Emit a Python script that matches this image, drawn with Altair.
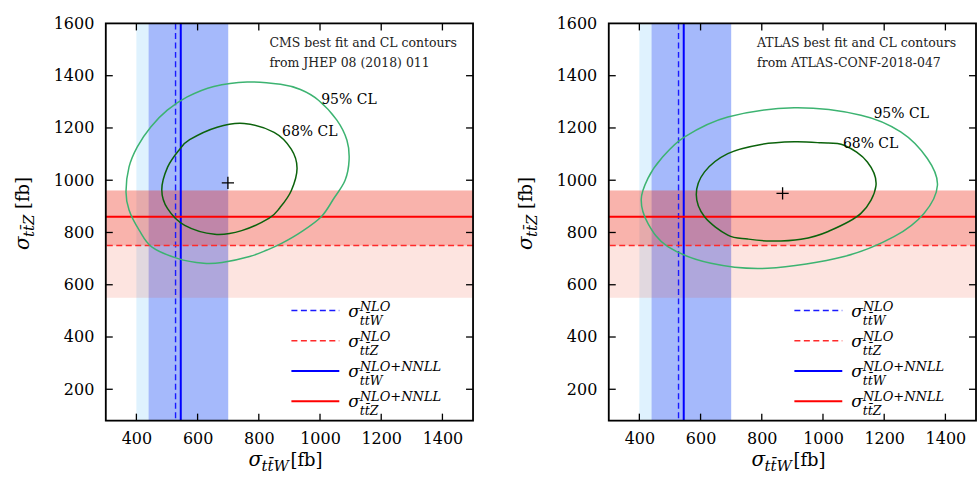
import altair as alt
import pandas as pd

FONT = "DejaVu Serif"

# ---------------- data ----------------
x_domain = [300, 1500]
y_domain = [80, 1600]
x_tick_values = [400, 600, 800, 1000, 1200, 1400]
y_tick_values = [200, 400, 600, 800, 1000, 1200, 1400, 1600]
y_inner_ticks = [200, 400, 600, 800, 1000, 1200, 1400]

ttw_nlo = 528
ttw_nnll = 545
ttw_nlo_band = [400, 700]
ttw_nnll_band = [440, 700]
ttz_nlo = 750
ttz_nnll = 860
ttz_nlo_band = [550, 963]
ttz_nnll_band = [750, 960]

cms_best = [699, 990]
cms95_x = [762, 871, 936, 995, 1055, 1088, 1095, 1082, 1045, 1004, 940, 876, 827, 770, 680, 620, 534, 450, 409, 376, 366, 376, 403, 447, 501, 566, 653]
cms95_y = [1376, 1367, 1347, 1306, 1230, 1153, 1077, 1000, 930, 860, 803, 759, 733, 708, 685, 682, 701, 745, 809, 886, 956, 1051, 1128, 1204, 1268, 1319, 1359]
cms68_x = [752, 850, 906, 925, 906, 869, 834, 744, 656, 558, 502, 483, 502, 539, 574, 664]
cms68_y = [1217, 1183, 1119, 1046, 960, 895, 855, 807, 793, 827, 891, 964, 1050, 1115, 1155, 1203]

atlas_best = [868, 950]
atlas95_x = [906, 1124, 1254, 1341, 1374, 1330, 1232, 1069, 819, 634, 493, 428, 406, 428, 472, 548, 689]
atlas95_y = [1277, 1249, 1185, 1083, 981, 873, 784, 708, 663, 682, 746, 835, 925, 1007, 1083, 1166, 1242]
atlas68_x = [906, 993, 1069, 1145, 1173, 1124, 1015, 928, 830, 754, 689, 613, 586, 613, 689, 798]
atlas68_y = [1147, 1143, 1134, 1070, 978, 873, 803, 774, 767, 775, 790, 860, 945, 1032, 1102, 1137]

cms_labels = ["95% CL", "68% CL"]
cms_label_x = [1004, 876]
cms_label_y = [1306, 1184]
atlas_labels = ["95% CL", "68% CL"]
atlas_label_x = [1165, 1065]
atlas_label_y = [1252, 1138]

cms_note = ["CMS best fit and CL contours", "from JHEP 08 (2018) 011"]
atlas_note = ["ATLAS best fit and CL contours", "from ATLAS-CONF-2018-047"]

legend_sup = ["NLO", "NLO", "NLO+NNLL", "NLO+NNLL"]
legend_sub = ["tt\u0304W", "tt\u0304Z", "tt\u0304W", "tt\u0304Z"]
legend_sigma = ["σ", "σ", "σ", "σ"]

x_title_parts = ["σ", "tt\u0304W", "[fb]"]
y_title_parts = ["σ", "tt\u0304Z", "[fb]"]

# ---------------- styles ----------------
W, H = 368, 398
legend_colors = ["#1a1aff", "#ff2a2a", "#0000ff", "#ff0000"]
legend_dashed = [True, True, False, False]
DASH = [6, 3.5]

xs = alt.Scale(domain=x_domain, nice=False, zero=False)
ys = alt.Scale(domain=y_domain, nice=False, zero=False)
x_axis = alt.Axis(values=x_tick_values, format="d", ticks=False, tickSize=0, domain=False, grid=False,
                  labelFont=FONT, labelFontSize=16, labelColor="black", labelPadding=10,
                  title=None, labelFlush=False)
y_axis = alt.Axis(values=y_tick_values, format="d", ticks=False, tickSize=0, domain=False, grid=False,
                  labelFont=FONT, labelFontSize=16, labelColor="black", labelPadding=12,
                  title=None, labelFlush=False)


def X(f):
    return alt.X(f, type="quantitative", scale=xs, axis=x_axis)


def Y(f):
    return alt.Y(f, type="quantitative", scale=ys, axis=y_axis)


def one(**kw):
    return pd.DataFrame({k: [v] for k, v in kw.items()})


def txt(t, x, y, size, italic=False, angle=None):
    kw = dict(font=FONT, fontSize=size, align="left", baseline="alphabetic", color="black")
    if italic:
        kw["fontStyle"] = "italic"
    if angle is not None:
        kw["angle"] = angle
    return alt.Chart(one(t=t)).mark_text(**kw).encode(x=alt.value(x), y=alt.value(y), text="t:N")


def panel(best, c95x, c95y, c68x, c68y, labels, lx, ly, note, note_x):
    layers = []
    # vertical (ttW) bands
    layers.append(alt.Chart(one(lo=ttw_nlo_band[0], hi=ttw_nlo_band[1])).mark_rect(
        color="#87cefa", opacity=0.27).encode(x=X("lo"), x2="hi", y=alt.value(0), y2=alt.value(H)))
    layers.append(alt.Chart(one(lo=ttw_nnll_band[0], hi=ttw_nnll_band[1])).mark_rect(
        color="#3246f5", opacity=0.33).encode(x=X("lo"), x2="hi", y=alt.value(0), y2=alt.value(H)))
    # horizontal (ttZ) bands
    layers.append(alt.Chart(one(lo=ttz_nlo_band[0], hi=ttz_nlo_band[1])).mark_rect(
        color="#f04020", opacity=0.14).encode(y=Y("lo"), y2="hi", x=alt.value(0), x2=alt.value(W)))
    layers.append(alt.Chart(one(lo=ttz_nnll_band[0], hi=ttz_nnll_band[1])).mark_rect(
        color="#f03020", opacity=0.27).encode(y=Y("lo"), y2="hi", x=alt.value(0), x2=alt.value(W)))
    # central values
    layers.append(alt.Chart(one(v=ttw_nlo)).mark_rule(color=legend_colors[0], strokeWidth=1.4,
                                                       strokeDash=DASH).encode(x=X("v")))
    layers.append(alt.Chart(one(v=ttz_nlo)).mark_rule(color=legend_colors[1], strokeWidth=1.4,
                                                       strokeDash=DASH).encode(y=Y("v")))
    layers.append(alt.Chart(one(v=ttw_nnll)).mark_rule(color=legend_colors[2], strokeWidth=2).encode(x=X("v")))
    layers.append(alt.Chart(one(v=ttz_nnll)).mark_rule(color=legend_colors[3], strokeWidth=2).encode(y=Y("v")))
    # contours
    cdf = pd.concat([
        pd.DataFrame({"x": c95x, "y": c95y, "idx": list(range(len(c95x))), "level": "95"}),
        pd.DataFrame({"x": c68x, "y": c68y, "idx": list(range(len(c68x))), "level": "68"}),
    ])
    layers.append(alt.Chart(cdf).mark_line(interpolate="cardinal-closed", strokeWidth=1.5).encode(
        x=X("x"), y=Y("y"), order="idx:Q", detail="level:N",
        color=alt.Color("level:N", scale=alt.Scale(domain=["95", "68"], range=["#3cb371", "#0b620b"]),
                        legend=None)))
    # best fit
    layers.append(alt.Chart(one(x=best[0], y=best[1])).mark_point(
        shape="M -1 0 L 1 0 M 0 -1 L 0 1", size=150, filled=False, color="black", strokeWidth=1.3,
        opacity=1).encode(x=X("x"), y=Y("y")))
    # CL labels
    layers.append(alt.Chart(pd.DataFrame({"x": lx, "y": ly, "t": labels})).mark_text(
        font=FONT, fontSize=14, align="left", baseline="middle", color="black").encode(
        x=X("x"), y=Y("y"), text="t:N"))
    # notes
    for i, t in enumerate(note):
        layers.append(alt.Chart(one(t=t)).mark_text(font=FONT, fontSize=12.5, align="left",
                                                    baseline="middle", color="#222").encode(
            x=alt.value(note_x), y=alt.value(20 + 20 * i), text="t:N"))
    # legend
    for i in range(4):
        ly0 = 287.7 + 30.3 * i
        rule_kw = dict(color=legend_colors[i], strokeWidth=1.6 if legend_dashed[i] else 2)
        if legend_dashed[i]:
            rule_kw["strokeDash"] = DASH
        layers.append(alt.Chart(one(a=0)).mark_rule(**rule_kw).encode(
            x=alt.value(186), x2=alt.value(234), y=alt.value(ly0)))
        layers.append(txt(legend_sigma[i], 243, ly0 + 6, 17, italic=True))
        layers.append(txt(legend_sup[i], 254.5, ly0, 13, italic=True))
        layers.append(txt(legend_sub[i], 254.5, ly0 + 14, 12.5, italic=True))
    # inward ticks
    tx = pd.DataFrame({"v": x_tick_values})
    ty = pd.DataFrame({"v": y_inner_ticks})
    tk = dict(color="black", strokeWidth=1.3)
    layers.append(alt.Chart(tx).mark_rule(**tk).encode(x=X("v"), y=alt.value(H), y2=alt.value(H - 7)))
    layers.append(alt.Chart(tx).mark_rule(**tk).encode(x=X("v"), y=alt.value(0), y2=alt.value(7)))
    layers.append(alt.Chart(ty).mark_rule(**tk).encode(y=Y("v"), x=alt.value(0), x2=alt.value(7)))
    layers.append(alt.Chart(ty).mark_rule(**tk).encode(y=Y("v"), x=alt.value(W), x2=alt.value(W - 7)))
    # frame
    layers.append(alt.Chart(one(a=0)).mark_rect(fillOpacity=0, stroke="black", strokeWidth=1.8).encode(
        x=alt.value(0), x2=alt.value(W), y=alt.value(0), y2=alt.value(H)))
    # x title
    layers.append(txt(x_title_parts[0], 143, 443.7, 20, italic=True))
    layers.append(txt(x_title_parts[1], 156, 448.7, 15, italic=True))
    layers.append(txt(x_title_parts[2], 185, 443.7, 18))
    # y title (rotated)
    layers.append(txt(y_title_parts[0], -76.7, 227, 20, italic=True, angle=270))
    layers.append(txt(y_title_parts[1], -72, 214, 15, italic=True, angle=270))
    layers.append(txt(y_title_parts[2], -76.7, 186, 18, angle=270))
    return alt.layer(*layers).properties(width=W, height=H)


left = panel(cms_best, cms95_x, cms95_y, cms68_x, cms68_y, cms_labels, cms_label_x, cms_label_y,
             cms_note, 164)
right = panel(atlas_best, atlas95_x, atlas95_y, atlas68_x, atlas68_y, atlas_labels, atlas_label_x,
              atlas_label_y, atlas_note, 148.6)

chart = alt.hconcat(left, right, spacing=40).properties(
    padding={"left": 12, "top": 14, "right": 0, "bottom": 0}
).configure_view(stroke=None).configure(background="white")

chart.save("out.html", embed_options={"renderer": "svg", "actions": False})
